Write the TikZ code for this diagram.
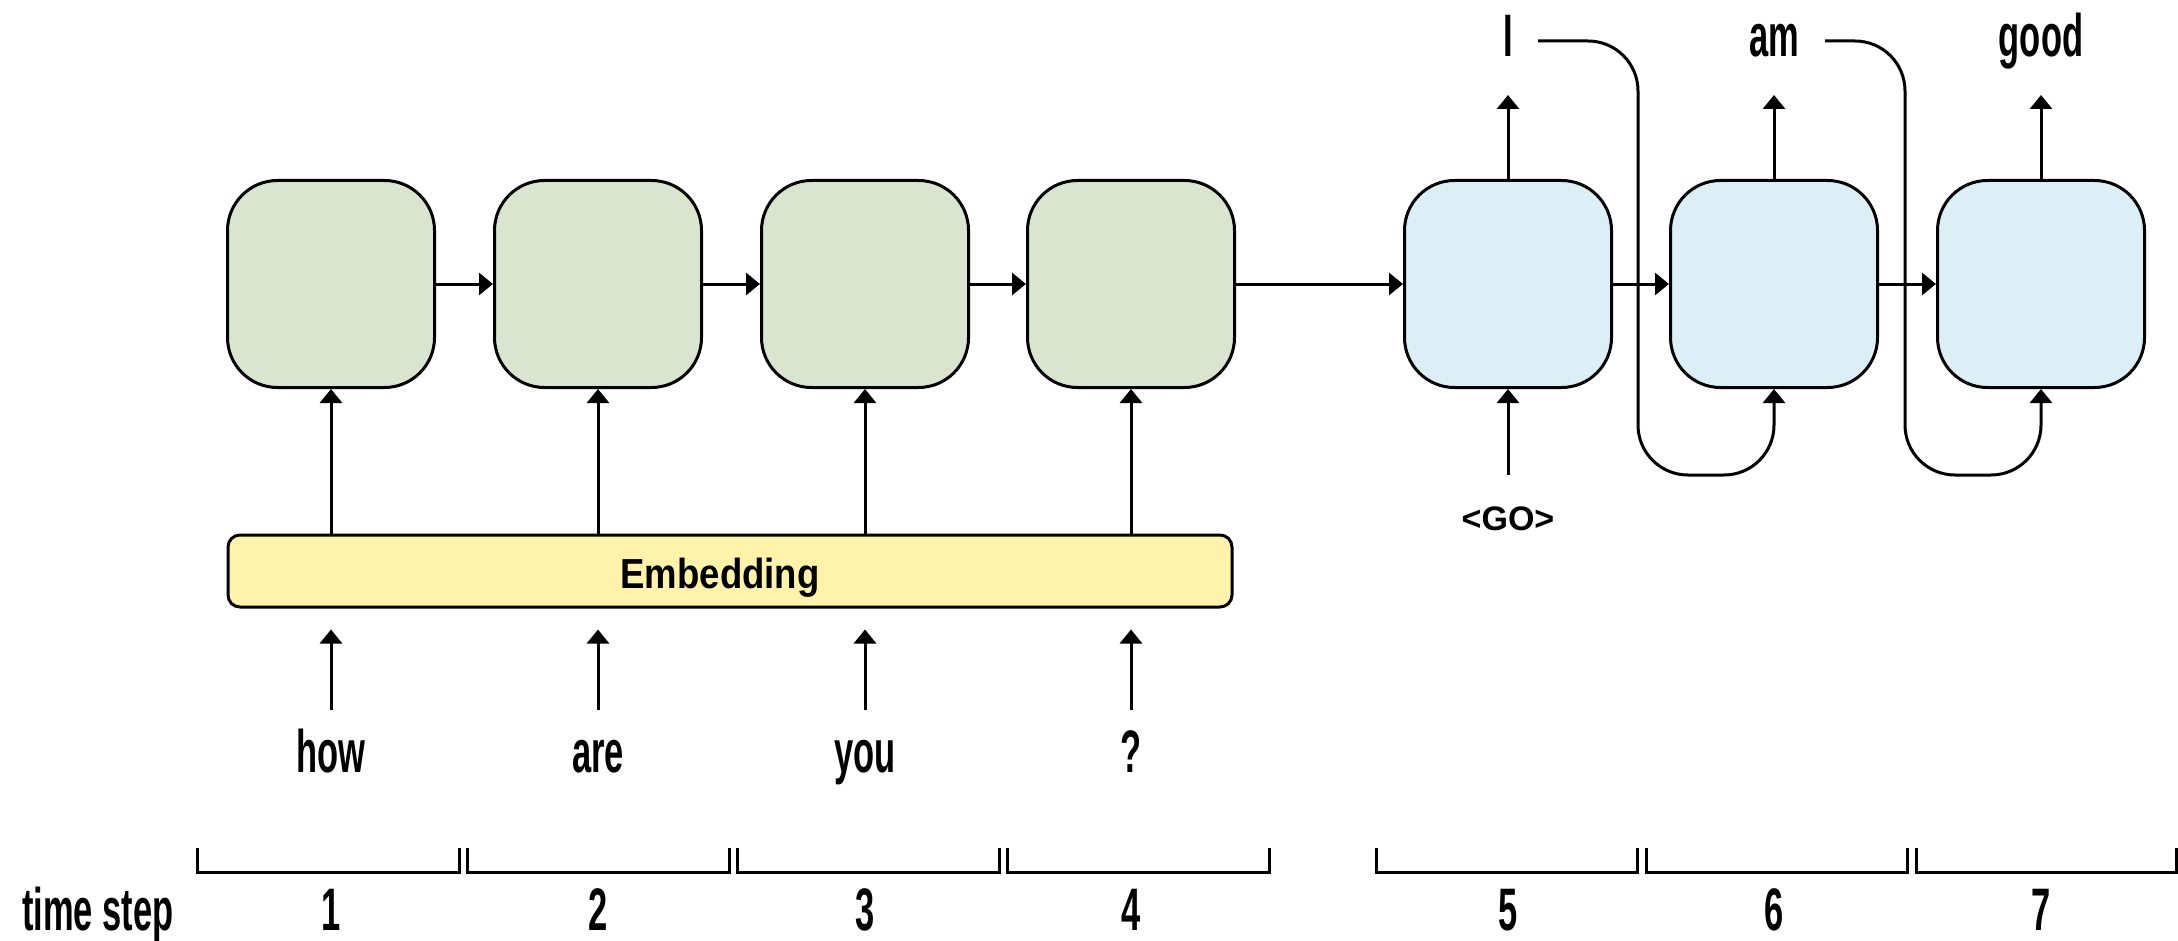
\documentclass[tikz,border=0pt]{standalone}
\usepackage{fontspec}
\setmainfont{Liberation Sans}
\newfontfamily\condfont[FakeStretch=0.575]{Liberation Sans Bold}
\newfontfamily\embfont[FakeStretch=0.87]{Liberation Sans Bold}
\newfontfamily\gofont{Liberation Sans Bold}
\usetikzlibrary{arrows.meta}
\definecolor{encgreen}{HTML}{DAE5D0}
\definecolor{decblue}{HTML}{DCEEF6}
\definecolor{embyellow}{HTML}{FFF2AA}
\tikzset{
  cell/.style={draw=black, line width=3pt, rounded corners=50pt, minimum width=207pt, minimum height=207pt, inner sep=0pt},
  enc/.style={cell, fill=encgreen},
  dec/.style={cell, fill=decblue},
  word/.style={font=\condfont\fontsize{60}{70}\selectfont, inner sep=0pt, anchor=base},
  arr/.style={line width=3pt, -{Triangle[length=14pt,width=22pt]}},
  brk/.style={line width=3pt},
}
\begin{document}
\begin{tikzpicture}[x=1pt,y=-1pt]
\useasboundingbox (0,0) rectangle (2178,941);
% encoder / decoder cells
\node[enc] (e1) at (331,284) {};
\node[enc] (e2) at (598,284) {};
\node[enc] (e3) at (865,284) {};
\node[enc] (e4) at (1131,284) {};
\node[dec] (d1) at (1508,284) {};
\node[dec] (d2) at (1774,284) {};
\node[dec] (d3) at (2041,284) {};
% embedding
\node[draw=black, line width=3pt, fill=embyellow, rounded corners=12pt, minimum width=1004pt, minimum height=72pt, inner sep=0pt] (emb) at (730,571) {};
\node[font=\embfont\fontsize{42}{50}\selectfont, inner sep=0pt, anchor=base] (embt) at (720,588) {Embedding};
% input words
\node[word] (w1) at (331,772) {how};
\node[word] (w2) at (598,772) {are};
\node[word] (w3) at (865,772) {you};
\node[word] (w4) at (1131,772) {?};
% output words
\node[word] (o1) at (1508,57) {I};
\node[word] (o2) at (1774,57) {am};
\node[word] (o3) at (2041,57) {good};
% GO
\node[font=\gofont\fontsize{34}{40}\selectfont, inner sep=0pt, anchor=base] (go) at (1508,530) {<GO>};
% coordinates for free ends
\coordinate (i1) at (331,710);
\coordinate (i2) at (598,710);
\coordinate (i3) at (865,710);
\coordinate (i4) at (1131,710);
\coordinate (t1) at (1508,95);
\coordinate (t2) at (1774,95);
\coordinate (t3) at (2041,95);
\coordinate (g1) at (1508,475);
\coordinate (s1) at (1538,41);
\coordinate (s2) at (1825,41);
\coordinate (b1) at (1638,475);
\coordinate (b2) at (1905,475);
% word -> embedding
\foreach \i in {1,2,3,4}{
  \draw[arr, shorten >=21pt] (i\i) -- (i\i |- emb.south);
}
% embedding -> cells
\foreach \e in {e1,e2,e3,e4}{
  \draw[arr] (\e.south |- emb.north) -- (\e.south);
}
% recurrent connections
\draw[arr] (e1.east) -- (e2.west);
\draw[arr] (e2.east) -- (e3.west);
\draw[arr] (e3.east) -- (e4.west);
\draw[arr] (e4.east) -- (d1.west);
\draw[arr] (d1.east) -- (d2.west);
\draw[arr] (d2.east) -- (d3.west);
% outputs
\draw[arr] (d1.north) -- (t1);
\draw[arr] (d2.north) -- (t2);
\draw[arr] (d3.north) -- (t3);
% GO input
\draw[arr] (g1) -- (d1.south);
% feedback loops
\draw[arr, rounded corners=50pt] (s1) -| (b1) -| (d2.south);
\draw[arr, rounded corners=50pt] (s2) -| (b2) -| (d3.south);
% time step brackets
\draw[brk] (197,848) |- (459,872) -- (459,848);
\draw[brk] (467,848) |- (729,872) -- (729,848);
\draw[brk] (737,848) |- (999,872) -- (999,848);
\draw[brk] (1007,848) |- (1269,872) -- (1269,848);
\draw[brk] (1376,848) |- (1637,872) -- (1637,848);
\draw[brk] (1646,848) |- (1907,872) -- (1907,848);
\draw[brk] (1916,848) |- (2176,872) -- (2176,848);
% time step labels
\node[word, anchor=base west] (ts) at (22,930) {time step};
\node[word] (n1) at (331,930) {1};
\node[word] (n2) at (598,930) {2};
\node[word] (n3) at (865,930) {3};
\node[word] (n4) at (1131,930) {4};
\node[word] (n5) at (1508,930) {5};
\node[word] (n6) at (1774,930) {6};
\node[word] (n7) at (2041,930) {7};
\end{tikzpicture}
\end{document}
